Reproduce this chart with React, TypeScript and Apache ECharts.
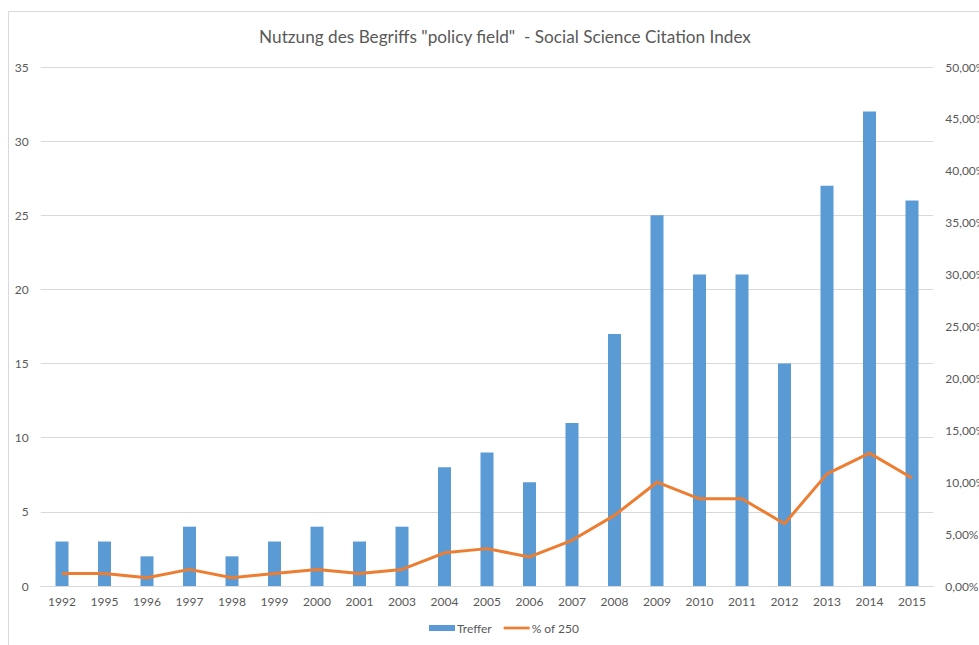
import React, { useEffect, useRef } from "react";
import * as echarts from "echarts";

const categories = ["1992","1995","1996","1997","1998","1999","2000","2001","2003","2004","2005","2006","2007","2008","2009","2010","2011","2012","2013","2014","2015"];
const treffer = [3,3,2,4,2,3,4,3,4,8,9,7,11,17,25,21,21,15,27,32,26];
const percentOf250 = [1.2,1.2,0.8,1.6,0.8,1.2,1.6,1.2,1.6,3.2,3.6,2.8,4.4,6.8,10.0,8.4,8.4,6.0,10.8,12.8,10.4];
const leftTicks = { min: 0, max: 35, interval: 5 };
const rightTicks = { min: 0, max: 50, interval: 5 };

const FONT = "Lato, 'Open Sans', sans-serif";
const TXT = "#595959";

export default function App() {
  const ref = useRef<HTMLDivElement>(null);
  useEffect(() => {
    document.body.style.margin = "0";
    const chart = echarts.init(ref.current!, null, { renderer: "svg" });
    chart.setOption({
      animation: false,
      backgroundColor: "#ffffff",
      textStyle: { fontFamily: FONT, color: TXT },
      title: {
        text: 'Nutzung des Begriffs "policy field"  - Social Science Citation Index',
        left: 500,
        top: 23,
        textAlign: "center",
        textStyle: { fontFamily: FONT, fontSize: 17.2, fontWeight: "normal", color: TXT },
      },
      graphic: [
        {
          type: "rect",
          shape: { x: 8.5, y: 11.5, width: 1100, height: 800 },
          style: { fill: "none", stroke: "#d9d9d9", lineWidth: 1 },
          silent: true,
          z: -10,
        },
      ],
      legend: {
        bottom: 6,
        left: 424,
        itemGap: 12,
        itemWidth: 26,
        itemHeight: 6,
        textStyle: { fontFamily: FONT, fontSize: 12, color: TXT, padding: [0, 0, 0, -3] },
        data: [
          { name: "Treffer", icon: "rect" },
          { name: "% of 250", icon: "path://M0 0H29V3H0Z" },
        ],
      },
      grid: { left: 40.75, right: 979 - 933.25, top: 67, bottom: 645 - 586, outerBoundsMode: "none", containLabel: false },
      xAxis: {
        type: "category",
        data: categories,
        axisLine: { lineStyle: { color: "#d9d9d9" } },
        axisTick: { show: false },
        axisLabel: { fontFamily: FONT, fontSize: 12, color: TXT, margin: 9 },
      },
      yAxis: [
        {
          type: "value",
          min: leftTicks.min,
          max: leftTicks.max,
          interval: leftTicks.interval,
          axisLabel: { fontFamily: FONT, fontSize: 12, color: TXT, margin: 12 },
          splitLine: { lineStyle: { color: "#d9d9d9" } },
          axisLine: { show: false },
          axisTick: { show: false },
        },
        {
          type: "value",
          min: rightTicks.min,
          max: rightTicks.max,
          interval: rightTicks.interval,
          position: "right",
          axisLabel: {
            fontFamily: FONT,
            fontSize: 12,
            color: TXT,
            margin: 12,
            formatter: (v: number) => v.toFixed(2).replace(".", ",") + "%",
          },
          splitLine: { show: false },
          axisLine: { show: false },
          axisTick: { show: false },
        },
      ],
      series: [
        {
          name: "Treffer",
          type: "bar",
          data: treffer,
          barWidth: 13,
          itemStyle: { color: "#5B9BD5" },
        },
        {
          name: "% of 250",
          type: "line",
          yAxisIndex: 1,
          data: percentOf250,
          symbol: "none",
          showSymbol: false,
          lineStyle: { color: "#ED7D31", width: 3 },
          itemStyle: { color: "#ED7D31" },
        },
      ],
    });
    return () => chart.dispose();
  }, []);
  return (
    <div
      ref={ref}
      style={{ position: "absolute", left: 0, top: 0, width: 979, height: 645 }}
    />
  );
}
